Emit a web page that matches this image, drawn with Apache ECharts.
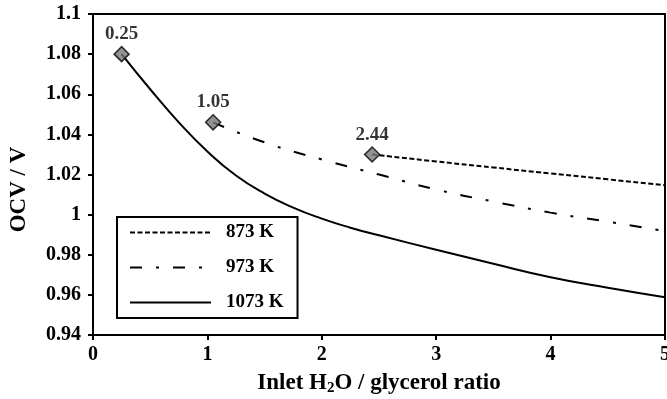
<!DOCTYPE html>
<html>
<head>
<meta charset="utf-8">
<script src="https://cdn.jsdelivr.net/npm/echarts@6/dist/echarts.min.js"></script>
<style>
  html, body { margin: 0; padding: 0; background: #fff; }
  #chart { width: 667px; height: 399px; }
</style>
</head>
<body>
<div id="chart"></div>
<script>
const FONT = 'Liberation Serif';

// 1073 K
const x1073 = [0.25, 0.5, 0.75, 1.0, 1.25, 1.5, 1.75, 2.0, 2.25, 2.5, 3.0, 3.5, 4.0, 4.5, 5.0];
const y1073 = [1.08, 1.0625, 1.046, 1.0315, 1.0195, 1.0105, 1.0035, 0.998, 0.9935, 0.9897, 0.9825, 0.9755, 0.9688, 0.9635, 0.9588];
// 973 K
const x973 = [1.05, 1.5, 2.0, 2.5, 3.0, 3.5, 4.0, 4.5, 5.0];
const y973 = [1.046, 1.036, 1.0275, 1.02, 1.0125, 1.0065, 1.001, 0.9965, 0.9918];
// 873 K
const x873 = [2.44, 3.0, 3.5, 4.0, 4.5, 5.0];
const y873 = [1.030, 1.0265, 1.0235, 1.0205, 1.0176, 1.0147];
// starting points (labelled with the ratio)
const startX = [0.25, 1.05, 2.44];
const startY = [1.08, 1.046, 1.03];

const seriesNames = ['873 K', '973 K', '1073 K'];

const pairs = (xs, ys) => xs.map((x, i) => [x, ys[i]]);

const chart = echarts.init(document.getElementById('chart'));

chart.setOption({
  animation: false,
  grid: {
    left: 93,
    right: 2,
    top: 14,
    bottom: 64,
    outerBoundsMode: 'none',
    containLabel: false,
    show: true,
    borderColor: '#000',
    borderWidth: 2,
  },
  legend: {
    data: seriesNames,
    orient: 'vertical',
    left: 117,
    top: 217,
    backgroundColor: '#fff',
    borderColor: '#000',
    borderWidth: 2,
    borderRadius: 0,
    padding: [6, 14, 6, 12],
    itemWidth: 81,
    itemHeight: 14,
    itemGap: 16,
    itemStyle: { color: 'transparent', borderWidth: 0, opacity: 0 },
    textStyle: {
      fontFamily: FONT,
      fontWeight: 'bold',
      fontSize: 19,
      color: '#000',
      padding: [0, 0, 0, 10],
    },
  },
  xAxis: {
    type: 'value',
    min: 0,
    max: 5,
    interval: 1,
    name: '{n|Inlet H}{s|2}{n|O / glycerol ratio}',
    nameLocation: 'middle',
    nameGap: 35,
    nameTextStyle: {
      color: '#000',
      rich: {
        n: { fontFamily: FONT, fontWeight: 'bold', fontSize: 23, color: '#000' },
        s: { fontFamily: FONT, fontWeight: 'bold', fontSize: 15, color: '#000', padding: [11, 0, 0, 0] },
      },
    },
    axisLine: { lineStyle: { color: '#000', width: 2 } },
    axisTick: { show: true, length: 5, lineStyle: { color: '#000', width: 2 } },
    axisLabel: {
      margin: 10,
      fontFamily: FONT,
      fontWeight: 'bold',
      fontSize: 20,
      color: '#000',
    },
    splitLine: { show: false },
  },
  yAxis: {
    type: 'value',
    min: 0.94,
    max: 1.1,
    interval: 0.02,
    name: 'OCV / V',
    nameLocation: 'middle',
    nameGap: 62,
    nameTextStyle: {
      fontFamily: FONT,
      fontWeight: 'bold',
      fontSize: 23,
      color: '#000',
      padding: [0, 30, 0, 0],
    },
    axisLine: { show: true, lineStyle: { color: '#000', width: 2 } },
    axisTick: { show: true, length: 5, lineStyle: { color: '#000', width: 2 } },
    axisLabel: {
      margin: 12,
      fontFamily: FONT,
      fontWeight: 'bold',
      fontSize: 20,
      color: '#000',
      formatter: (v) => String(parseFloat(v.toFixed(2))),
    },
    splitLine: { show: false },
  },
  series: [
    {
      name: '873 K',
      type: 'line',
      smooth: true,
      symbol: 'none',
      data: pairs(x873, y873),
      lineStyle: { color: '#000', width: 2, type: [5, 2.5] },
      itemStyle: { color: '#000' },
      z: 2,
    },
    {
      name: '973 K',
      type: 'line',
      smooth: true,
      symbol: 'none',
      data: pairs(x973, y973),
      lineStyle: { color: '#000', width: 2, type: [12, 14, 3, 14] },
      itemStyle: { color: '#000' },
      z: 2,
    },
    {
      name: '1073 K',
      type: 'line',
      smooth: true,
      symbol: 'none',
      data: pairs(x1073, y1073),
      lineStyle: { color: '#000', width: 2, type: 'solid' },
      itemStyle: { color: '#000' },
      z: 2,
    },
    {
      name: 'start',
      type: 'scatter',
      symbol: 'diamond',
      symbolSize: 15,
      data: pairs(startX, startY),
      itemStyle: { color: '#777', borderColor: '#000', borderWidth: 1.5 },
      label: {
        show: true,
        position: 'top',
        distance: 2,
        fontFamily: FONT,
        fontWeight: 'bold',
        fontSize: 19,
        color: '#000',
        formatter: (p) => p.value[0].toFixed(2),
      },
      z: 5,
    },
  ],
});
</script>
</body>
</html>
